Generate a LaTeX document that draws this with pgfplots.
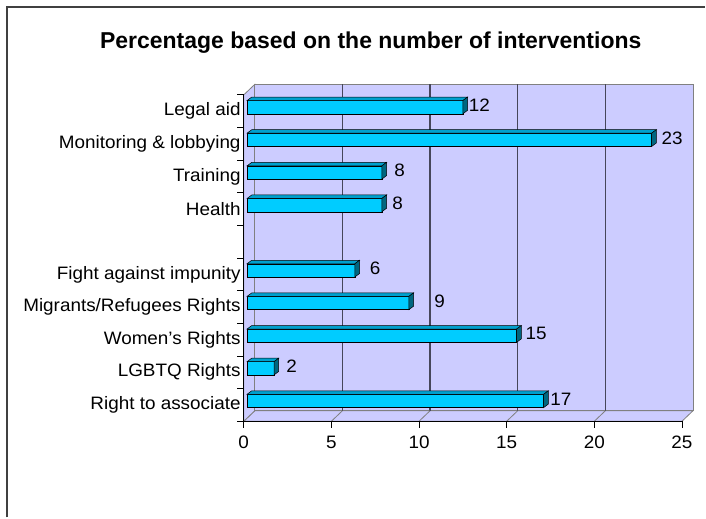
\documentclass[border=0pt]{standalone}
\usepackage{fontspec}
\setmainfont{Liberation Sans}
\newfontfamily\lblfont[FakeStretch=1.05]{Liberation Sans}
\usepackage{pgfplots}
\usepackage{pgfplotstable}
\pgfplotsset{compat=1.18}

\definecolor{wall}{RGB}{204,204,255}
\definecolor{edge}{RGB}{128,128,128}
\definecolor{gridc}{RGB}{70,70,90}
\definecolor{barfront}{RGB}{0,204,255}
\definecolor{bartop}{RGB}{0,160,205}
\definecolor{barside}{RGB}{0,102,128}

% y = row (Legal aid on top), v = share in %, lab = printed value, dx = label offset
\pgfplotstableread{
y v lab dx
9 12.31 12 16.6
8 23.08 23 20.5
7 7.69 8 17.7
6 7.69 8 15.7
4 6.15 6 20.4
3 9.23 9 30.7
2 15.38 15 19.4
1 1.54 2 17.7
0 16.92 17 17.3
}\shares

\pgfdeclareplotmark{nothing}{}

\begin{document}
\begin{tikzpicture}
\path (0,0) rectangle (706pt,-518pt);
\draw[line width=1.5pt, black!75] (7pt,-518pt) -- (7pt,-7pt) -- (706pt,-7pt);
\node[anchor=base west, inner sep=0pt, font=\fontsize{23}{27}\selectfont\bfseries]
  at (100pt,-49pt) {Percentage based on the number of interventions};

\begin{axis}[
  set layers,
  anchor=south west, at={(244pt,-421.7pt)},
  scale only axis, width=438.7pt, height=326.7pt,
  xmin=0, xmax=25, ymin=-0.5, ymax=9.5,
  axis lines*=left,
  axis line style={black, line width=0.8pt, -},
  tick align=outside,
  major tick length=6.5pt,
  tick style={black, line width=0.8pt},
  xtick={0,5,...,25},
  ytick={-0.5,0.5,...,9.5},
  yticklabels={},
  extra y ticks={0,...,9},
  extra y tick labels={Right to associate, LGBTQ Rights\hspace{7pt}, Women’s Rights\hspace{9pt},
    Migrants/Refugees Rights\hspace{9pt}, Fight against impunity\hspace{9pt}, {}, Health, Training,
    Monitoring \& lobbying\hspace{9pt}, Legal aid},
  extra y tick style={major tick length=0pt, yticklabel style={anchor=east, inner sep=0pt, xshift=-3pt}},
  tick label style={font=\lblfont\fontsize{18}{21}\selectfont},
  xticklabel style={inner sep=0pt, yshift=-8pt},
  /pgf/number format/assume math mode=true,
  clip=false,
]
\begin{pgfonlayer}{axis background}
  % floor, side wall and back wall
  \filldraw[fill=wall, draw=edge, line width=0.8pt]
    (axis cs:0,-0.5) -- (axis cs:25,-0.5) -- ([shift={(11pt,10.5pt)}]axis cs:25,-0.5)
    -- ([shift={(11pt,10.5pt)}]axis cs:0,-0.5) -- cycle;
  \filldraw[fill=wall, draw=edge, line width=0.8pt]
    (axis cs:0,-0.5) -- (axis cs:0,9.5) -- ([shift={(11pt,10.5pt)}]axis cs:0,9.5)
    -- ([shift={(11pt,10.5pt)}]axis cs:0,-0.5) -- cycle;
  \filldraw[fill=wall, draw=edge, line width=0.8pt]
    ([shift={(11pt,10.5pt)}]axis cs:0,-0.5) rectangle ([shift={(11pt,10.5pt)}]axis cs:25,9.5);
  \pgfplotsinvokeforeach{5,10,15,20}{
    \draw[gridc, line width=1.1pt] ([shift={(11pt,10.5pt)}]axis cs:#1,-0.5) -- ([shift={(11pt,10.5pt)}]axis cs:#1,9.5);
    \draw[edge, line width=0.8pt] (axis cs:#1,-0.5) -- ([shift={(11pt,10.5pt)}]axis cs:#1,-0.5);
  }
\end{pgfonlayer}

% top and side faces of the 3D bars
\addplot[only marks, mark=nothing, scatter, xshift=3.3pt, yshift=4pt,
  visualization depends on={\thisrow{v} \as \val},
  scatter/@pre marker code/.code={
    \pgfmathsetmacro\L{\val*17.548}
    \filldraw[fill=bartop, draw=black, line width=0.5pt]
      (-\L pt,6.65pt) -- (0pt,6.65pt) -- (4.7pt,10.15pt) -- (-\L pt+4.7pt,10.15pt) -- cycle;
    \filldraw[fill=barside, draw=black, line width=0.5pt]
      (0pt,-6.65pt) -- (0pt,6.65pt) -- (4.7pt,10.15pt) -- (4.7pt,-3.15pt) -- cycle;
  },
  scatter/@post marker code/.code={},
] table[x=v, y=y] {\shares};

% front faces with value labels
\addplot[xbar, bar width=13.3pt, fill=barfront, draw=black, line width=0.5pt,
  xshift=3.3pt, yshift=4pt,
  point meta=explicit symbolic,
  visualization depends on={\thisrow{dx} \as \dx},
  nodes near coords,
  every node near coord/.append style={anchor=center, xshift=\dx pt, yshift=2pt,
    inner sep=0pt, text=black, font=\lblfont\fontsize{18}{21}\selectfont},
] table[x=v, y=y, meta=lab] {\shares};
\end{axis}
\end{tikzpicture}
\end{document}
